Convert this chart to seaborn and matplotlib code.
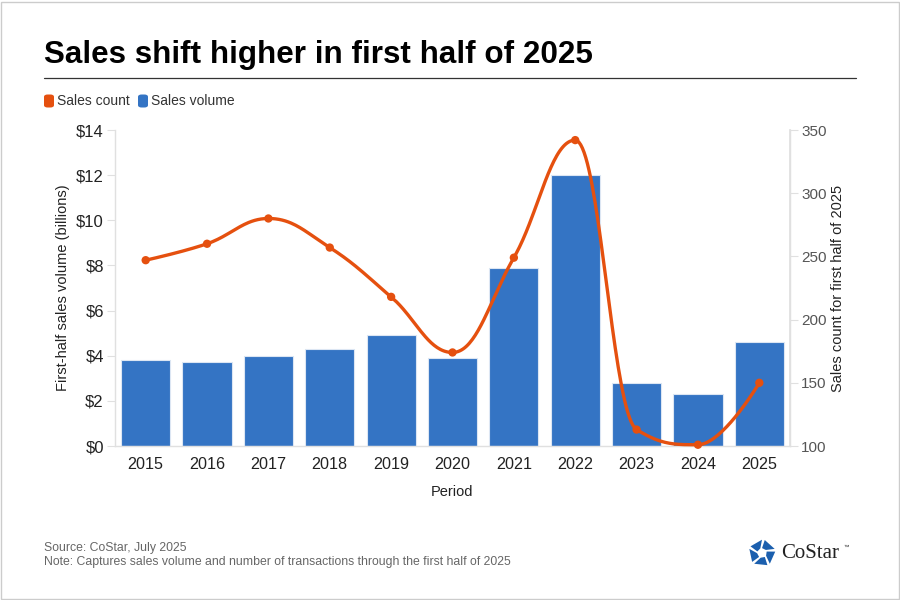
import numpy as np
import pandas as pd
import matplotlib
matplotlib.use("Agg")
import matplotlib.pyplot as plt
from matplotlib.patches import FancyBboxPatch, Polygon, Rectangle
from matplotlib.lines import Line2D
import seaborn as sns

years = ["2015", "2016", "2017", "2018", "2019", "2020", "2021", "2022", "2023", "2024", "2025"]
sales_volume = [3.8, 3.7, 4.0, 4.3, 4.9, 3.9, 7.9, 12.0, 2.8, 2.3, 4.6]
sales_count = [247, 260, 280, 257, 218, 174, 249, 342, 113, 101, 150]
left_ticks = [0, 2, 4, 6, 8, 10, 12, 14]
left_labels = ["$0", "$2", "$4", "$6", "$8", "$10", "$12", "$14"]
right_ticks = [100, 150, 200, 250, 300, 350]

BLUE = "#3474c4"
ORANGE = "#e5500f"
TXT = "#222222"
AXC = "#e0e0e0"

sns.set_theme(style="white")
plt.rcParams["font.family"] = ["Liberation Sans", "DejaVu Sans"]

fig = plt.figure(figsize=(9, 6), dpi=100)
fig.patch.set_facecolor("white")
# outer frame
fig.add_artist(Rectangle((0.0015, 0.0025), 0.997, 0.995, transform=fig.transFigure,
                         fill=False, edgecolor="#cccccc", linewidth=1))

ax = fig.add_axes([115 / 900, 1 - 446 / 600, 675 / 900, 316 / 600])
df = pd.DataFrame({"year": years, "volume": sales_volume, "count": sales_count})
sns.barplot(data=df, x="year", y="volume", color=BLUE, saturation=1, width=0.8,
            edgecolor="#dce6f3", linewidth=0.8, ax=ax)
ax.set_xlim(-0.5, len(years) - 0.5)
ax.set_ylim(0, 14)
ax.set_yticks(left_ticks)
ax.set_yticklabels(left_labels)
ax.set_xlabel("Period", fontsize=10.5, color=TXT, labelpad=9)
ax.set_ylabel("First-half sales volume (billions)", fontsize=10.5, color=TXT, labelpad=4.5)
for s in ["top"]:
    ax.spines[s].set_visible(False)
for s in ["left", "right", "bottom"]:
    ax.spines[s].set_color(AXC)
    ax.spines[s].set_linewidth(1)
ax.tick_params(axis="y", colors=TXT, labelsize=12, length=6, width=0.8, color=AXC, pad=2)
ax.tick_params(axis="x", colors=TXT, labelsize=11.6, length=0, pad=8)
for t in ax.get_yticklabels() + ax.get_xticklabels():
    t.set_color(TXT)

ax2 = ax.twinx()
ax2.set_ylim(100, 350)
ax2.set_yticks(right_ticks)
ax2.set_ylabel("Sales count for first half of 2025", fontsize=10.5, color=TXT, labelpad=3.5)
ax2.tick_params(axis="y", colors="#555555", labelsize=11, length=6, width=0.8, color=AXC, pad=2)
for s in ["top", "left", "bottom"]:
    ax2.spines[s].set_visible(False)
ax2.spines["right"].set_color(AXC)

# Highcharts-style spline through the points
xs = np.arange(len(sales_count), dtype=float)
ys = np.array(sales_count, dtype=float)
n = len(xs)
lc = [(xs[i], ys[i]) for i in range(n)]
rc = [(xs[i], ys[i]) for i in range(n)]
sm, den = 1.5, 2.5
for i in range(1, n - 1):
    px, py = xs[i], ys[i]
    lx, ly = xs[i - 1], ys[i - 1]
    nx, ny = xs[i + 1], ys[i + 1]
    lcx = (sm * px + lx) / den
    lcy = (sm * py + ly) / den
    rcx = (sm * px + nx) / den
    rcy = (sm * py + ny) / den
    corr = ((rcy - lcy) * (rcx - px)) / (rcx - lcx) + py - rcy
    lcy += corr
    rcy += corr
    if lcy > ly and lcy > py:
        lcy = max(ly, py); rcy = 2 * py - lcy
    elif lcy < ly and lcy < py:
        lcy = min(ly, py); rcy = 2 * py - lcy
    if rcy > ny and rcy > py:
        rcy = max(ny, py); lcy = 2 * py - rcy
    elif rcy < ny and rcy < py:
        rcy = min(ny, py); lcy = 2 * py - rcy
    lc[i] = (lcx, lcy)
    rc[i] = (rcx, rcy)
cx, cy = [], []
tt = np.linspace(0, 1, 40)
for i in range(n - 1):
    p0 = np.array([xs[i], ys[i]]); p1 = np.array(rc[i])
    p2 = np.array(lc[i + 1]); p3 = np.array([xs[i + 1], ys[i + 1]])
    for t in tt:
        b = (1 - t) ** 3 * p0 + 3 * (1 - t) ** 2 * t * p1 + 3 * (1 - t) * t ** 2 * p2 + t ** 3 * p3
        cx.append(b[0]); cy.append(b[1])
ax2.plot(cx, cy, color=ORANGE, linewidth=2.4, solid_capstyle="round", zorder=3, clip_on=False)
sns.scatterplot(x=xs, y=ys, color=ORANGE, s=36, edgecolor="none", ax=ax2, zorder=4, clip_on=False)

# Title & rule
fig.text(44 / 900, 1 - 55 / 600, "Sales shift higher in first half of 2025", fontsize=22.6,
         fontweight="bold", color="black", va="center", ha="left")
fig.add_artist(Line2D([44 / 900, 856 / 900], [1 - 77.5 / 600, 1 - 77.5 / 600], color="#333333",
                      linewidth=0.9, transform=fig.transFigure))

# Legend
def leg_item(x, color, label):
    fig.add_artist(FancyBboxPatch((x / 900, 1 - 107.5 / 600), 10 / 900, 13 / 600,
                                  boxstyle="round,pad=0,rounding_size=0.004",
                                  transform=fig.transFigure, facecolor=color, edgecolor="none"))
    fig.text((x + 13) / 900, 1 - 101 / 600, label, fontsize=10, color="#333333", va="center", ha="left")

leg_item(44, ORANGE, "Sales count")
leg_item(138, BLUE, "Sales volume")

# Footer
fig.text(44 / 900, 1 - 548 / 600, "Source: CoStar, July 2025", fontsize=8.8, color="#666666",
         va="center", ha="left")
fig.text(44 / 900, 1 - 562 / 600,
         "Note: Captures sales volume and number of transactions through the first half of 2025",
         fontsize=8.8, color="#666666", va="center", ha="left")

# Logo (approximation)
cxl, cyl = 762, 553
lax = fig.add_axes([(cxl - 14) / 900, 1 - (cyl + 14) / 600, 28 / 900, 28 / 600])
lax.set_xlim(-1, 1); lax.set_ylim(-1, 1); lax.axis("off")
for k in range(5):
    a = np.deg2rad(90 + 72 * k)
    b = a + np.deg2rad(60)
    r1, r2 = 0.35, 0.95
    pts = [(r1 * np.cos(a + 0.35), r1 * np.sin(a + 0.35)), (r2 * np.cos(a), r2 * np.sin(a)),
           (r2 * np.cos(b), r2 * np.sin(b)), (r1 * np.cos(b + 0.2), r1 * np.sin(b + 0.2))]
    lax.add_patch(Polygon(pts, closed=True, facecolor="#1b5fae", edgecolor="none"))
fig.text(781 / 900, 1 - 553 / 600, "CoStar", fontsize=15, family=["Liberation Serif", "DejaVu Serif"],
         color="#222222", va="center", ha="left")
fig.text(843 / 900, 1 - 547 / 600, "™", fontsize=4, color="#222222", va="center", ha="left")

fig.savefig("out.png", dpi=100, facecolor="white")
